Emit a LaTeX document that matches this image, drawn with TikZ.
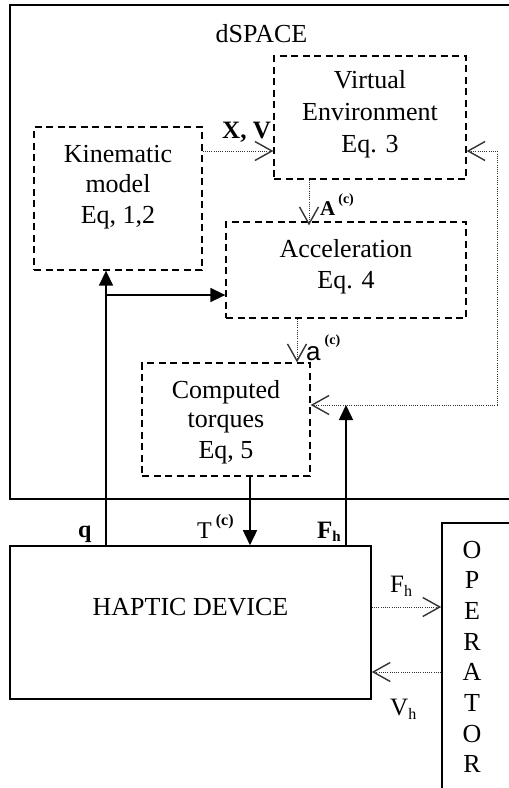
\documentclass[tikz,border=0pt]{standalone}
\usepackage{fontspec}
\setmainfont{Liberation Serif}
\newfontfamily\arialf{Liberation Sans}
\usetikzlibrary{arrows.meta}
\newcommand\myfs[1]{\fontsize{#1}{#1}\selectfont}
\newcommand\supc[2]{\raisebox{#2}{\rmfamily\myfs{#1}\bfseries(c)}}
\begin{document}
\begin{tikzpicture}[x=1pt,y=-1pt,
  ob/.tip={Straight Barb[length=17pt,width=19pt,line width=1.4pt]},
  ft/.tip={Triangle[length=15pt,width=14pt]},
  dbox/.style={draw, dash pattern=on 7pt off 4.5pt, line width=1.3pt, inner sep=0pt},
  sbox/.style={draw, line width=1.6pt, inner sep=0pt},
  sline/.style={line width=1.6pt},
  dline/.style={line width=0.9pt, dash pattern=on 1pt off 1.2pt, black!80},
  txt/.style={inner sep=0pt, anchor=base, font=\myfs{26}},
  lbl/.style={inner sep=0pt, anchor=base west}]
\useasboundingbox (0,0) rectangle (509,788);
\clip (0,0) rectangle (509,788);

% boxes
\node[sbox, minimum width=502pt, minimum height=494pt] (ds) at (261,252) {};
\node[dbox, minimum width=168pt, minimum height=143pt] (kin) at (118,198.5) {};
\node[dbox, minimum width=192pt, minimum height=123pt] (ve) at (370,117.5) {};
\node[dbox, minimum width=240pt, minimum height=96pt] (acc) at (346,270) {};
\node[dbox, minimum width=168pt, minimum height=113pt] (ct) at (226,419.5) {};
\node[sbox, minimum width=361pt, minimum height=153pt] (hd) at (190.5,622.5) {};
\node[sbox, minimum width=76pt, minimum height=274pt] (op) at (480,660) {};

% texts
\node[txt] (dsl) at (261.5,42) {dSPACE};
\node[txt] (ve1) at (370,88) {Virtual};
\node[txt] (ve2) at (370,120) {Environment};
\node[txt] (ve3) at (370,152) {Eq. 3};
\node[txt] (kin1) at (118,162) {Kinematic};
\node[txt] (kin2) at (118,192) {model};
\node[txt] (kin3) at (118,223) {Eq, 1,2};
\node[txt] (acc1) at (346,257) {Acceleration};
\node[txt] (acc2) at (346,288) {Eq. 4};
\node[txt] (ct1) at (226,398) {Computed};
\node[txt] (ct2) at (226,427) {torques};
\node[txt] (ct3) at (226,458) {Eq, 5};
\node[txt] (hdl) at (190.5,615) {HAPTIC DEVICE};
\foreach \l [count=\i] in {O,P,E,R,A,T,O,R}
  \node[txt] (op\i) at (472,{558+30.7*(\i-1)}) {\l};

% coordinates
\coordinate (qx) at (106,0);
\coordinate (br) at (106,295);
\coordinate (tx) at (250,0);
\coordinate (fx) at (346,0);
\coordinate (fh) at (346,405);
\coordinate (xv) at (0,151);
\coordinate (ax) at (309,0);
\coordinate (sx) at (297,0);
\coordinate (fbt) at (497,151);
\coordinate (fbb) at (497,405);
\coordinate (hy1) at (0,607);
\coordinate (hy2) at (0,672);

% solid connectors
\draw[sline,-ft] (hd.north -| qx) -- (kin.south -| qx);
\draw[sline,-ft] (br) -- (br -| acc.west);
\draw[sline,-ft] (ct.south -| tx) -- (hd.north -| tx);
\draw[sline,-ft] (hd.north -| fx) -- (fh);

% dotted connectors
\draw[dline,-ob] (kin.east |- xv) -- (ve.west |- xv);
\draw[dline,-ob,shorten >=-4pt] (ve.south -| ax) -- (acc.north -| ax);
\draw[dline,-ob] (acc.south -| sx) -- (ct.north -| sx);
\draw[dline,ob-ob] (fbt -| ve.east) -- (fbt) -- (fbb) -- (fbb -| ct.east);
\draw[dline,-ob] (hd.east |- hy1) -- (op.west |- hy1);
\draw[dline,-ob] (op.west |- hy2) -- (hd.east |- hy2);

% labels
\node[lbl, font=\myfs{25}\bfseries] (xvl) at (222,138) {X, V};
\node[lbl] (al) at (320,215) {\myfs{21}\bfseries A\kern3pt\supc{14}{12pt}};
\node[lbl] (asl) at (306,360) {\arialf\myfs{26}a\kern4pt\supc{14}{16pt}};
\node[lbl] (tl) at (197,538) {\myfs{24}T\kern4pt\supc{16}{13pt}};
\node[lbl] (ql) at (78,537) {\myfs{24}\bfseries q};
\node[lbl] (fhl) at (317,538) {\myfs{25}\bfseries F\raisebox{-3pt}{\myfs{15}h}};
\node[lbl] (fho) at (390,592) {\myfs{25}F\raisebox{-4pt}{\myfs{16}h}};
\node[lbl] (vho) at (390,715) {\myfs{25}V\raisebox{-4pt}{\myfs{16}h}};
\end{tikzpicture}
\end{document}
